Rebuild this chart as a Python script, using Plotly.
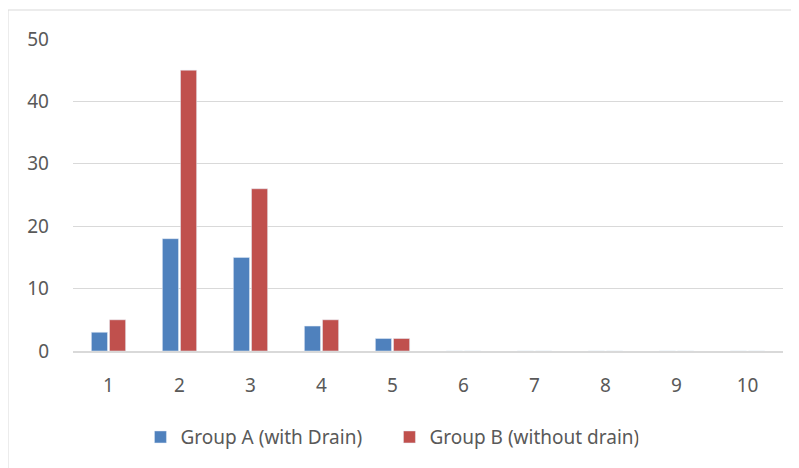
import plotly.graph_objects as go

categories = ["1", "2", "3", "4", "5", "6", "7", "8", "9", "10"]
group_a = [3, 18, 15, 4, 2, 0, 0, 0, 0, 0]
group_b = [5, 45, 26, 5, 2, 0, 0, 0, 0, 0]
y_ticks = [0, 10, 20, 30, 40, 50]

FONT = "Noto Sans"
GRAY = "#595959"
FS = 19

fig = go.Figure()
fig.add_trace(go.Bar(x=categories, y=group_a, name="Group A (with Drain)",
                     marker=dict(color="#4F81BD")))
fig.add_trace(go.Bar(x=categories, y=group_b, name="Group B (without drain)",
                     marker=dict(color="#C0504D")))

fig.update_layout(
    width=799, height=468,
    margin=dict(l=65, r=24, t=31, b=125, autoexpand=False),
    paper_bgcolor="white", plot_bgcolor="white",
    barmode="group", bargap=0.49, bargroupgap=0.11,
    font=dict(family=FONT, size=FS, color=GRAY),
    showlegend=True,
    legend=dict(orientation="h", x=0.095, y=-0.276, yanchor="middle", xanchor="left",
                font=dict(family=FONT, size=FS, color=GRAY), itemwidth=30,
                entrywidth=204),
    xaxis=dict(type="category", showgrid=False, showline=True, linecolor="#d9d9d9",
               linewidth=2, ticks="", ticklabelstandoff=16,
               tickfont=dict(family=FONT, size=FS, color=GRAY)),
    yaxis=dict(range=[0, 50], tickvals=y_ticks, showgrid=True, gridcolor="#d9d9d9",
               gridwidth=1, zeroline=False, showline=False, ticks="",
               ticklabelstandoff=23, tickfont=dict(family=FONT, size=FS, color=GRAY)),
    shapes=[dict(type="rect", xref="paper", yref="paper",
                 x0=(8 - 73) / 710, x1=(810 - 73) / 710,
                 y0=(351 - 480) / 312, y1=(351 - 10) / 312,
                 line=dict(color="#d9d9d9", width=1), fillcolor="rgba(0,0,0,0)",
                 layer="below")],
)

fig.write_html("out.html")
